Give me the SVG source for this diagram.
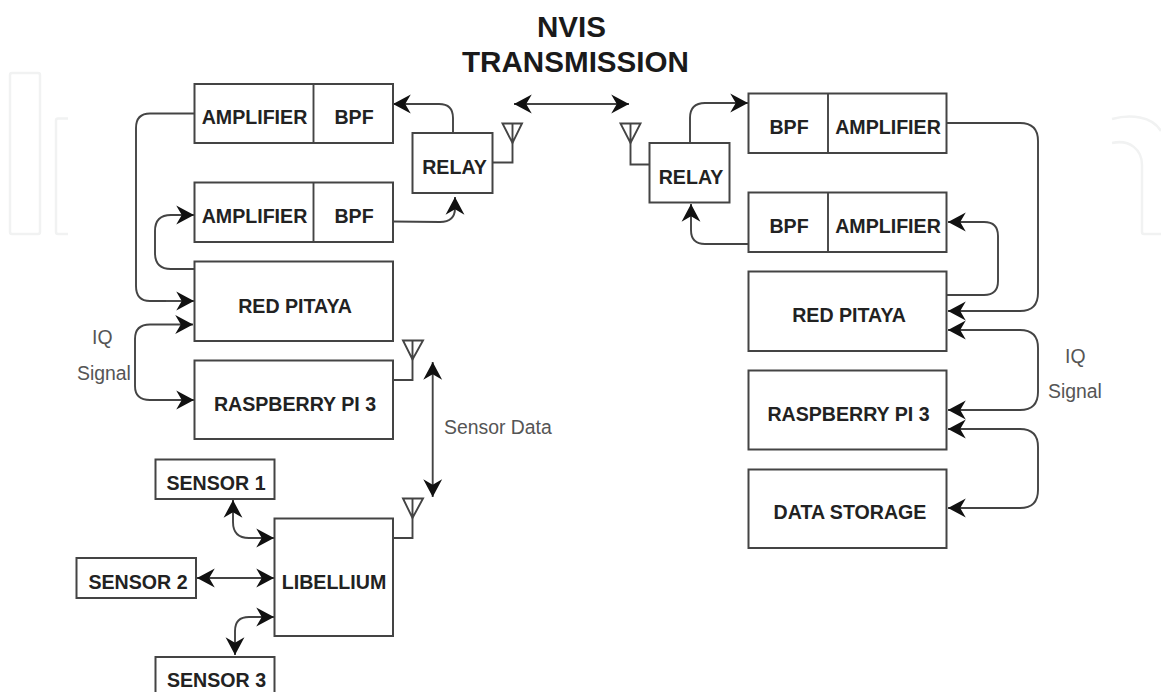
<svg xmlns="http://www.w3.org/2000/svg" width="1161" height="692" viewBox="0 0 1161 692">
<style>
.b{fill:#fff;stroke:#444;stroke-width:2}
.c{fill:none;stroke:#444;stroke-width:1.9}
.t{font:bold 19.6px "Liberation Sans",Arial,sans-serif;fill:#222;text-anchor:middle}
.h{font:bold 29.6px "Liberation Sans",Arial,sans-serif;fill:#1a1a1a;text-anchor:middle}
.l{font:19.4px "Liberation Sans",Arial,sans-serif;fill:#555}
.w{fill:none;stroke:#f1f2f2;stroke-width:2.5}
</style>
<defs>
<marker id="a" markerUnits="userSpaceOnUse" markerWidth="20" markerHeight="20" refX="16" refY="9" orient="auto-start-reverse" viewBox="0 0 18 18"><path d="M0 0.500L16 9L0 17.500L5 9Z" fill="#111"/></marker>
</defs>
<rect width="1161" height="692" fill="#fff"/>
<g id="watermark">
<rect class="w" x="10" y="73" width="30" height="161" rx="2"/>
<path class="w" d="M68 118.500H58a2 2 0 0 0-2 2V232a2 2 0 0 0 2 2H68"/>
<path class="w" d="M1112 119C1130 114 1152 116 1161 131M1112 143C1130 139 1142 150 1142 165V232Q1142 234 1144 234H1161"/>
</g>
<g id="connectors">
<path class="c" marker-start="url(#a)" marker-end="url(#a)" d="M514 104H629"/>
<path class="c" marker-end="url(#a)" d="M453 133V118Q453 104 439 104H393"/>
<path class="c" marker-end="url(#a)" d="M393 221.500L440 222Q455 222 455 208V197"/>
<path class="c" d="M194 113.500H150Q136 113.500 136 128V286Q136 301 150 301H166"/>
<path class="c" marker-end="url(#a)" d="M166 301H194"/>
<path class="c" marker-end="url(#a)" d="M194 269H171Q155 269 155 253V231Q155 215 171 215H194"/>
<path class="c" marker-start="url(#a)" marker-end="url(#a)" d="M193 324.500H150Q135 324.500 135 339V386Q135 400 150 400H194"/>
<path class="c" d="M393 380H412.500V358"/>
<path class="c" marker-start="url(#a)" marker-end="url(#a)" d="M432.700 362V497"/>
<path class="c" d="M393 538H412.500V517"/>
<path class="c" marker-start="url(#a)" marker-end="url(#a)" d="M233 500V522Q233 538 249 538H274"/>
<path class="c" marker-start="url(#a)" marker-end="url(#a)" d="M197 578H274"/>
<path class="c" marker-start="url(#a)" marker-end="url(#a)" d="M235 655V631Q235 617 249 617H274"/>
<path class="c" d="M492 162.500H512.500V142"/>
<path class="c" d="M649.500 164.500H630.500V142"/>
<path class="c" marker-end="url(#a)" d="M690 143V118Q690 103 705 103H748"/>
<path class="c" marker-end="url(#a)" d="M748 244H705Q691 244 691 230V204"/>
<path class="c" marker-end="url(#a)" d="M947 123H1020Q1038 123 1038 141V293Q1038 311 1020 311H948"/>
<path class="c" marker-end="url(#a)" d="M947 295H984Q998 295 998 281V236Q998 222 984 222H948"/>
<path class="c" marker-start="url(#a)" marker-end="url(#a)" d="M948 330H1020Q1038 330 1038 348V392Q1038 410 1020 410H948"/>
<path class="c" marker-start="url(#a)" marker-end="url(#a)" d="M948 429H1020Q1038 429 1038 447V490Q1038 508 1020 508H948"/>
</g>
<g id="antennas">
<path class="c" d="M502.500 123.500H522L512.500 143ZM512.500 123.500V143"/>
<path class="c" d="M620.500 123.500H640.500L630.500 143ZM630.500 123.500V143"/>
<path class="c" d="M403 340.500H423L412.500 359.500ZM412.500 340.500V359.500"/>
<path class="c" d="M403 498.500H423L412.500 518ZM412.500 498.500V518"/>
</g>
<text class="h" x="571.500" y="37">NVIS</text>
<text class="h" x="575.500" y="72">TRANSMISSION</text>
<g id="amp-bpf-l1"><rect class="b" x="194.500" y="84" width="198.500" height="59"/><path class="c" d="M313.500 84V143"/><text class="t" x="254.500" y="124">AMPLIFIER</text><text class="t" x="354" y="124">BPF</text></g>
<g id="amp-bpf-l2"><rect class="b" x="194.500" y="182.500" width="198.500" height="59.500"/><path class="c" d="M313.500 182.500V242"/><text class="t" x="254.500" y="223">AMPLIFIER</text><text class="t" x="354" y="223">BPF</text></g>
<g id="relay-l"><rect class="b" x="412.500" y="133" width="80" height="60"/><text class="t" x="454.500" y="174">RELAY</text></g>
<g id="red-pitaya-l"><rect class="b" x="194.500" y="261.500" width="198.500" height="79.500"/><text class="t" x="295" y="313">RED PITAYA</text></g>
<g id="raspberry-l"><rect class="b" x="194.500" y="360.500" width="198.500" height="78.500"/><text class="t" x="295" y="411">RASPBERRY PI 3</text></g>
<g id="sensor-1"><rect class="b" x="155.500" y="459.500" width="119" height="39.500"/><text class="t" x="216" y="490">SENSOR 1</text></g>
<g id="sensor-2"><rect class="b" x="76.500" y="558" width="119.500" height="40"/><text class="t" x="138" y="589">SENSOR 2</text></g>
<g id="sensor-3"><rect class="b" x="155.500" y="657" width="119" height="40"/><text class="t" x="216.500" y="687">SENSOR 3</text></g>
<g id="libellium"><rect class="b" x="274.500" y="518.500" width="118.500" height="117.500"/><text class="t" x="334" y="589">LIBELLIUM</text></g>
<g id="bpf-amp-r1"><rect class="b" x="748.500" y="93.500" width="198" height="59.500"/><path class="c" d="M828 93.500V153"/><text class="t" x="789" y="134">BPF</text><text class="t" x="888" y="134">AMPLIFIER</text></g>
<g id="bpf-amp-r2"><rect class="b" x="748.500" y="192.500" width="198" height="59.500"/><path class="c" d="M828 192.500V252"/><text class="t" x="789" y="233">BPF</text><text class="t" x="888" y="233">AMPLIFIER</text></g>
<g id="relay-r"><rect class="b" x="649.500" y="143" width="80" height="59.500"/><text class="t" x="691" y="184">RELAY</text></g>
<g id="red-pitaya-r"><rect class="b" x="748.500" y="271.500" width="198" height="79.500"/><text class="t" x="849" y="322">RED PITAYA</text></g>
<g id="raspberry-r"><rect class="b" x="748.500" y="370.500" width="198" height="79"/><text class="t" x="848.500" y="421">RASPBERRY PI 3</text></g>
<g id="data-storage"><rect class="b" x="748.500" y="469.500" width="198" height="78.500"/><text class="t" x="850" y="519">DATA STORAGE</text></g>
<text class="l" x="92" y="344">IQ</text>
<text class="l" x="77" y="380">Signal</text>
<text class="l" x="444" y="434">Sensor Data</text>
<text class="l" x="1065" y="363">IQ</text>
<text class="l" x="1048" y="398">Signal</text>
</svg>
